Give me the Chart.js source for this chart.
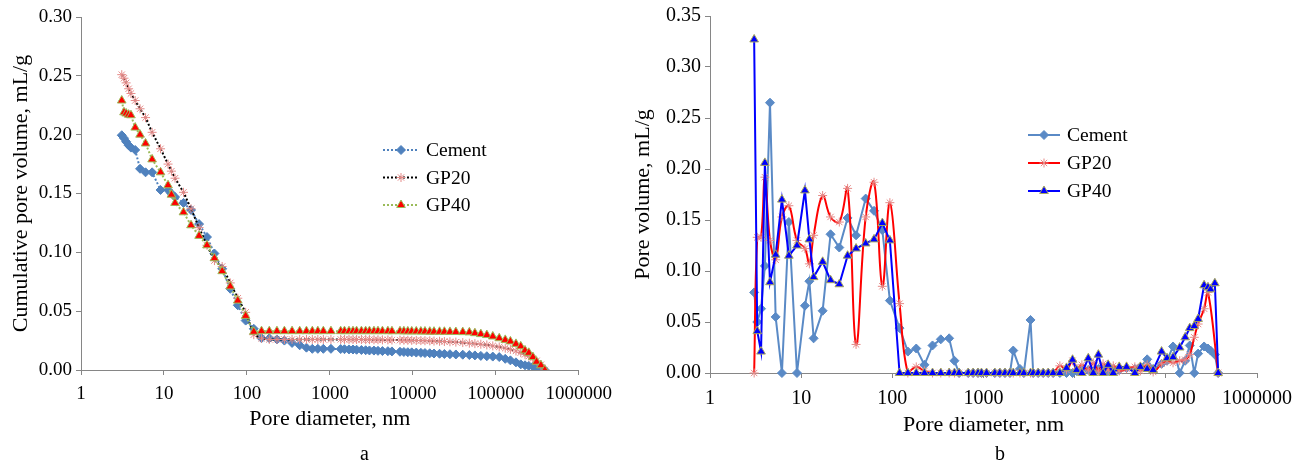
<!DOCTYPE html>
<html>
<head>
<meta charset="utf-8">
<script src="https://cdn.jsdelivr.net/npm/chart.js@4.4.1/dist/chart.umd.min.js"></script>
<style>
  html, body { margin: 0; padding: 0; background: #fff; }
  #page { position: relative; width: 1303px; height: 466px; overflow: hidden; }
  .box { position: absolute; top: 0; height: 466px; }
  #boxA { left: 0; width: 620px; }
  #boxB { left: 620px; width: 683px; }
  .cap { position: absolute; top: 443px; line-height: 20px; font-family: "Liberation Serif", serif; font-size: 20px; color: #000; }
</style>
</head>
<body>
<div id="page">
  <div class="box" id="boxA"><canvas id="chartA"></canvas></div>
  <div class="box" id="boxB"><canvas id="chartB"></canvas></div>
  <div class="cap" style="left:360px;">a</div>
  <div class="cap" style="left:995px;">b</div>
</div>
<script>
// Pore diameter axis (nm, log) - same decades on both charts
const decadeTicks = [1, 10, 100, 1000, 10000, 100000, 1000000];
const seriesNames = ['Cement', 'GP20', 'GP40'];

// (a) Cumulative pore volume, mL/g
const diamA = [3.1, 3.3, 3.5, 3.75, 4.0, 4.5, 5.15, 6.0, 7.2, 9.1, 11.2, 12.3, 13.6, 17.2, 21.2, 26.5, 33, 40.6, 50.3, 63, 77.6, 96.6, 121,
  150, 186, 230, 283, 350, 433, 522, 614, 716, 834,
  1030, 1350, 1500, 1700, 1900, 2100, 2400, 2700, 3000, 3400,
  3800, 4300, 5000, 5600, 7000, 7800, 8700, 9700, 11000, 12500,
  14000, 16000, 18000, 21000, 24000, 28000, 33000, 40000, 48000, 56000,
  66000, 78000, 92000, 110000, 130000, 150000, 175000, 200000, 225000, 250000,
  280000, 310000, 350000, 390000];
const cementA = [0.1995, 0.197, 0.194, 0.191, 0.189, 0.187, 0.171, 0.168, 0.168, 0.153, 0.153, 0.150, 0.147, 0.142, 0.136, 0.124, 0.113, 0.099, 0.086, 0.069, 0.055, 0.042, 0.035,
  0.027, 0.027, 0.026, 0.025, 0.023, 0.021, 0.019, 0.018, 0.018, 0.018,
  0.018, 0.0178, 0.0177, 0.0175, 0.0174, 0.0172, 0.017, 0.0168, 0.0166, 0.0165,
  0.0163, 0.0161, 0.016, 0.0158, 0.0155, 0.0153, 0.0151, 0.015, 0.0148, 0.0146,
  0.0144, 0.0142, 0.014, 0.0138, 0.0136, 0.0134, 0.0132, 0.013, 0.0127, 0.0124,
  0.012, 0.0117, 0.0114, 0.011, 0.0095, 0.0082, 0.0065, 0.0048, 0.004, 0.0035,
  0.003, 0.0025, 0.0012, 0];
const gp20A = [0.251, 0.248, 0.244, 0.239, 0.235, 0.229, 0.222, 0.2145, 0.202, 0.188, 0.175, 0.169, 0.163, 0.151, 0.137, 0.121, 0.106, 0.093, 0.088, 0.074, 0.061, 0.049, 0.030,
  0.027, 0.026, 0.026, 0.026, 0.026, 0.026, 0.026, 0.026, 0.026, 0.026,
  0.026, 0.026, 0.026, 0.026, 0.026, 0.0259, 0.0259, 0.0258, 0.0258, 0.0257,
  0.0257, 0.0256, 0.0256, 0.0255, 0.0254, 0.0254, 0.0253, 0.0252, 0.0251, 0.025,
  0.0249, 0.0248, 0.0246, 0.0244, 0.0242, 0.024, 0.0237, 0.0233, 0.0228, 0.0224,
  0.0219, 0.0213, 0.0205, 0.0196, 0.0186, 0.0175, 0.0162, 0.0148, 0.0133, 0.0118,
  0.0098, 0.0078, 0.0045, 0];
const gp40A = [0.229, 0.219, 0.218, 0.217, 0.2165, 0.206, 0.200, 0.1925, 0.179, 0.168, 0.157, 0.149, 0.142, 0.134, 0.123, 0.114, 0.106, 0.095, 0.084, 0.071, 0.059, 0.046, 0.0325,
  0.033, 0.033, 0.033, 0.033, 0.033, 0.033, 0.033, 0.033, 0.033, 0.033,
  0.033, 0.033, 0.033, 0.033, 0.033, 0.033, 0.033, 0.033, 0.033, 0.033,
  0.033, 0.033, 0.033, 0.0329, 0.0329, 0.0329, 0.0328, 0.0328, 0.0328, 0.0327,
  0.0327, 0.0326, 0.0326, 0.0325, 0.0325, 0.0324, 0.0323, 0.0322, 0.032, 0.0313,
  0.0305, 0.0297, 0.0285, 0.027, 0.0256, 0.0243, 0.0222, 0.0201, 0.0166, 0.0146,
  0.011, 0.007, 0.004, 0];

// (b) Pore volume, mL/g
const diamB = [3.05, 3.3, 3.63, 4.0, 4.55, 5.25, 6.15, 7.33, 9.0, 11.0,
  12.3, 13.7, 17.2, 21, 26.2, 32.3, 40, 51, 63, 77.7,
  94, 120, 148, 183, 225, 276, 340, 420, 480, 540,
  680, 770, 870, 950, 1080, 1330, 1510, 1720, 1950, 2120,
  2510, 2770, 3280, 3510, 3980, 4520, 5130, 5810, 6880, 8140,
  9480, 10500, 12000, 14100, 16000, 18200, 20500, 23300, 26500, 30800,
  37100, 45700, 52600, 62400, 72600, 89800, 103000, 120000, 142000, 163000,
  183000, 205000, 226000, 263000, 290000, 309000, 345000, 375000];
const cementB = [0.079, 0.050, 0.063, 0.105, 0.265, 0.055, 0, 0.148, 0, 0.066,
  0.090, 0.034, 0.061, 0.136, 0.123, 0.152, 0.135, 0.171, 0.159, 0.140,
  0.071, 0.044, 0.021, 0.024, 0.008, 0.027, 0.033, 0.034, 0.012, 0,
  0, 0, 0, 0, 0, 0, 0, 0, 0, 0.022,
  0.004, 0, 0.052, 0, 0, 0, 0, 0, 0, 0,
  0, 0.002, 0.004, 0.003, 0.002, 0.004, 0.003, 0.002, 0.004, 0.003,
  0.005, 0.004, 0.006, 0.0134, 0.004, 0.009, 0.012, 0.026, 0, 0.012,
  0.027, 0, 0.019, 0.026, 0.024, 0.022, 0.018, 0];
const gp20B = [0, 0.133, 0.133, 0.192, 0.130, 0.111, 0.153, 0.164, 0.130, 0.122,
  0.107, 0.135, 0.174, 0.153, 0.148, 0.181, 0.028, 0.153, 0.187, 0.085,
  0.167, 0.068, 0, 0.006, 0.002, 0, 0, 0, 0, 0,
  0, 0, 0, 0, 0, 0, 0, 0, 0, 0,
  0, 0, 0, 0, 0, 0, 0, 0, 0.007, 0.003,
  0.012, 0.004, 0.008, 0.003, 0.010, 0.002, 0.009, 0.003, 0.007, 0.002,
  0.004, 0.006, 0.002, 0.008, 0.001, 0.009, 0.012, 0.010, 0.012, 0.013,
  0.018, 0.035, 0.048, 0.063, 0.079, null, null, 0];
const gp40B = [0.327, 0.041, 0.021, 0.206, 0.089, 0.116, 0.170, 0.115, 0.125, 0.179,
  0.131, 0.094, 0.109, 0.091, 0.087, 0.115, 0.122, 0.127, 0.131, 0.147,
  0.130, 0, 0, 0, 0, 0, 0, 0, 0, 0,
  0, 0, 0, 0, 0, 0, 0, 0, 0, 0,
  0, 0, 0, 0, 0, 0, 0, 0, 0, 0.005,
  0.013, 0.003, 0, 0.0144, 0, 0.018, 0, 0.008, 0, 0.006,
  0.006, 0, 0.006, 0.004, 0.003, 0.021, 0.0145, 0.0154, 0.025, 0.035,
  0.044, 0.046, 0.053, 0.086, 0.084, 0.082, 0.088, 0];

const SERIF = '"Liberation Serif", "Times New Roman", serif';
const AXIS = '#868686';

function pts(xs, ys) {
    return xs.map((x, i) => ({ x: x, y: ys[i] }));
}

// legend drawn inside the plot, Excel style
const innerLegend = {
    id: 'innerLegend',
    afterDraw(chart, args, opts) {
        const ctx = chart.ctx;
        ctx.save();
        chart.data.datasets.forEach((ds, i) => {
            const y = opts.y + i * opts.gap;
            ctx.strokeStyle = ds.borderColor;
            ctx.lineWidth = ds.borderWidth;
            ctx.setLineDash(ds.borderDash || []);
            ctx.beginPath();
            ctx.moveTo(opts.x, y);
            ctx.lineTo(opts.x + opts.len, y);
            ctx.stroke();
            ctx.setLineDash([]);
            ctx.fillStyle = ds.pointBackgroundColor;
            ctx.strokeStyle = ds.pointBorderColor;
            ctx.lineWidth = ds.pointBorderWidth;
            Chart.helpers.drawPoint(ctx, { pointStyle: ds.pointStyle, radius: ds.pointRadius, borderWidth: ds.pointBorderWidth, rotation: 0 }, opts.x + opts.len / 2, y);
            ctx.fillStyle = '#000';
            ctx.font = opts.size + 'px ' + SERIF;
            ctx.textBaseline = 'middle';
            ctx.textAlign = 'left';
            ctx.fillText(ds.label, opts.x + opts.len + 7, y + 1);
        });
        ctx.restore();
    }
};

function scales(yMax, yTitle, yWidth, xHeight, tickSize, xPad) {
    return {
        x: {
            type: 'logarithmic',
            min: 1,
            max: 1000000,
            afterBuildTicks: s => { s.ticks = decadeTicks.map(v => ({ value: v })); },
            afterFit: s => { s.height = xHeight; },
            ticks: { color: '#000', padding: xPad, maxRotation: 0, autoSkip: false, font: { family: SERIF, size: tickSize }, callback: v => String(v) },
            grid: { drawOnChartArea: false, drawTicks: true, tickLength: 5, color: AXIS },
            border: { color: AXIS },
            title: { display: true, text: 'Pore diameter, nm', color: '#000', font: { family: SERIF, size: 22 } }
        },
        y: {
            min: 0,
            max: yMax,
            afterFit: s => { s.width = yWidth; },
            ticks: { stepSize: 0.05, color: '#000', padding: 4, font: { family: SERIF, size: tickSize }, callback: v => v.toFixed(2) },
            grid: { drawOnChartArea: false, drawTicks: true, tickLength: 5, color: AXIS },
            border: { color: AXIS },
            title: { display: true, text: yTitle, color: '#000', font: { family: SERIF, size: 22 } }
        }
    };
}

// Gráfico a
new Chart(document.getElementById('chartA'), {
    type: 'line',
    data: {
        datasets: [
            { label: seriesNames[0], data: pts(diamA, cementA), order: 2,
              borderColor: '#4F81BD', borderWidth: 2, borderDash: [2, 2],
              pointStyle: 'rectRot', pointRadius: 4.5, pointBackgroundColor: '#4F81BD', pointBorderColor: '#4F81BD', pointBorderWidth: 1 },
            { label: seriesNames[1], data: pts(diamA, gp20A), order: 1,
              borderColor: '#000000', borderWidth: 2, borderDash: [2, 2],
              pointStyle: 'star', pointRadius: 4.5, pointBackgroundColor: '#E58A88', pointBorderColor: '#E58A88', pointBorderWidth: 1 },
            { label: seriesNames[2], data: pts(diamA, gp40A), order: 0,
              borderColor: '#9BBB59', borderWidth: 2, borderDash: [2, 2],
              pointStyle: 'triangle', pointRadius: 5, pointBackgroundColor: '#FF0000', pointBorderColor: '#9BBB59', pointBorderWidth: 1 }
        ]
    },
    options: {
        responsive: true,
        maintainAspectRatio: false,
        animation: false,
        layout: { padding: { left: 4, top: 17, right: 33, bottom: 30 } },
        elements: { line: { tension: 0 } },
        scales: scales(0.30, 'Cumulative pore volume, mL/g', 77, 66, 19, 8),
        plugins: {
            legend: { display: false },
            tooltip: { enabled: false },
            innerLegend: { x: 383, y: 150, gap: 27.5, len: 36, size: 19.5 }
        }
    },
    plugins: [innerLegend]
});

// Gráfico b
new Chart(document.getElementById('chartB'), {
    type: 'line',
    data: {
        datasets: [
            { label: seriesNames[0], data: pts(diamB, cementB), order: 2, clip: 10,
              borderColor: '#5A8AC6', borderWidth: 2,
              pointStyle: 'rectRot', pointRadius: 4.5, pointBackgroundColor: '#5A8AC6', pointBorderColor: '#5A8AC6', pointBorderWidth: 1 },
            { label: seriesNames[1], data: pts(diamB, gp20B), order: 1, clip: 10, spanGaps: true, tension: 0.4,
              borderColor: '#FF0000', borderWidth: 2,
              pointStyle: 'star', pointRadius: 4.5, pointBackgroundColor: '#E58A88', pointBorderColor: '#E58A88', pointBorderWidth: 1 },
            { label: seriesNames[2], data: pts(diamB, gp40B), order: 0, clip: 10,
              borderColor: '#0000FF', borderWidth: 2,
              pointStyle: 'triangle', pointRadius: 5, pointBackgroundColor: '#0000FF', pointBorderColor: '#A6A65A', pointBorderWidth: 1 }
        ]
    },
    options: {
        responsive: true,
        maintainAspectRatio: false,
        animation: false,
        layout: { padding: { left: 6, top: 16, right: 46, bottom: 24 } },
        elements: { line: { tension: 0 } },
        scales: scales(0.35, 'Pore volume, mL/g', 84, 69, 20, 9),
        plugins: {
            legend: { display: false },
            tooltip: { enabled: false },
            innerLegend: { x: 408, y: 135, gap: 28, len: 32, size: 19.5 }
        }
    },
    plugins: [innerLegend]
});
</script>
</body>
</html>
